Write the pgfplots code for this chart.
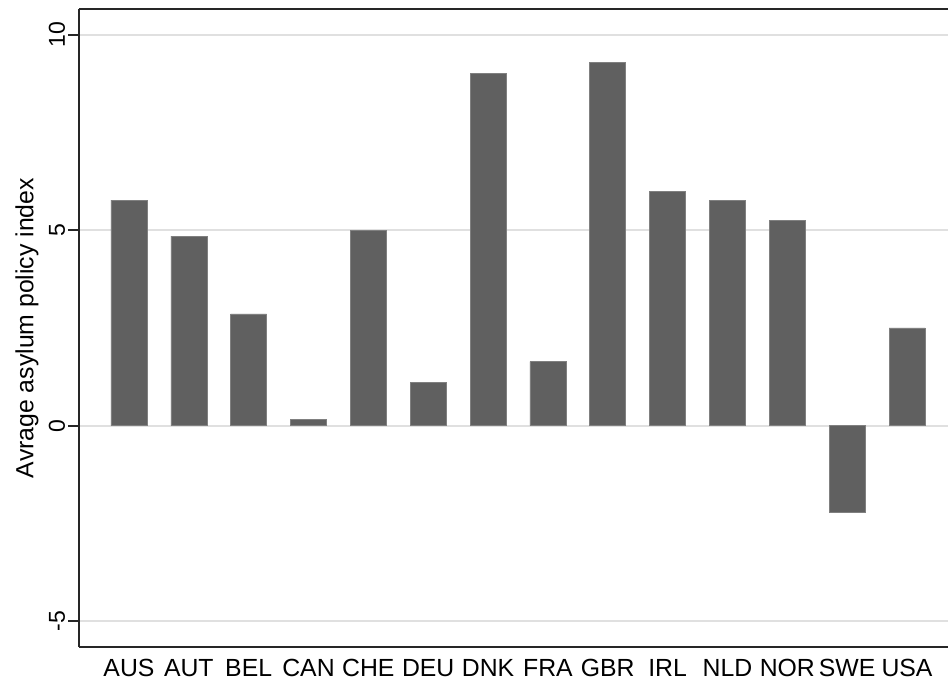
\documentclass[border=0pt]{standalone}
\usepackage{pgfplots}
\pgfplotsset{compat=1.18}
\usepackage{fontspec}
\setmainfont{Liberation Sans}
\definecolor{barc}{RGB}{96,96,96}
\definecolor{gridc}{RGB}{224,224,224}
\begin{document}
\fontsize{12.4}{14}\selectfont
\begin{tikzpicture}
\begin{axis}[
  scale only axis,
  clip=false,
  width=434.5pt, height=319pt,
  xmin=-0.835, xmax=13.685,
  ymin=-5.665, ymax=10.665,
  axis x line*=box,
  axis y line*=left,
  axis line style={line width=1pt, black!85},
  xtick={0,1,2,3,4,5,6,7,8,9,10,11,12,13},
  xticklabels={AUS,AUT,BEL,CAN,CHE,DEU,DNK,FRA,GBR,IRL,NLD,NOR,SWE,USA},
  xtick style={draw=none},
  x tick label style={font=\fontsize{12.4}{14}\selectfont, anchor=base, inner sep=0pt, yshift=-10.5pt},
  ytick={-5,0,5,10},
  yticklabels={-5,0,5,10},
  y tick label style={rotate=90, anchor=base, inner sep=0pt, font=\fontsize{11.5}{14}\selectfont, yshift=7pt},
  ytick style={draw=none},
  ymajorgrids,
  grid style={gridc, line width=1pt},
  ylabel={Avrage asylum policy index},
  ylabel style={font=\fontsize{12.4}{14}\selectfont, at={(axis description cs:0,0.5)}, anchor=north, inner sep=0pt, yshift=32pt},
  ybar, bar width=18pt,
]
\addplot[fill=barc, draw=barc!80!white, line width=0.3pt] coordinates {
 (0,5.77) (1,4.85) (2,2.86) (3,0.17) (4,5.00) (5,1.11) (6,9.01)
 (7,1.64) (8,9.29) (9,5.99) (10,5.77) (11,5.25) (12,-2.23) (13,2.50)
};
\draw[black!85, line width=1pt] (axis cs:-0.835,-5) -- ++(-5.5pt,0pt);
\draw[black!85, line width=1pt] (axis cs:-0.835,0) -- ++(-5.5pt,0pt);
\draw[black!85, line width=1pt] (axis cs:-0.835,5) -- ++(-5.5pt,0pt);
\draw[black!85, line width=1pt] (axis cs:-0.835,10) -- ++(-5.5pt,0pt);
\end{axis}
\pgfresetboundingbox
\path[use as bounding box] ([xshift=-39.5pt,yshift=-18.5pt]current axis.south west) rectangle ([yshift=4.5pt]current axis.north east);
\end{tikzpicture}
\end{document}
